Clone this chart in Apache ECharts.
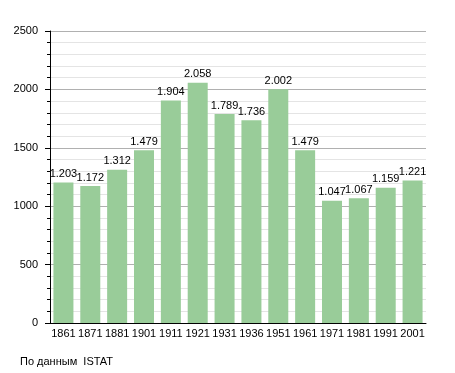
<!DOCTYPE html>
<html><head><meta charset="utf-8">
<script src="https://cdn.jsdelivr.net/npm/echarts@6/dist/echarts.min.js"></script>
<style>html,body{margin:0;padding:0;background:#fff}#c{width:455px;height:373px}</style>
</head><body><div id="c"></div>
<script>
const years = ['1861','1871','1881','1901','1911','1921','1931','1936','1951','1961','1971','1981','1991','2001'];
const population = [1203,1172,1312,1479,1904,2058,1789,1736,2002,1479,1047,1067,1159,1221];
const yTicks = [0,500,1000,1500,2000,2500];
const FONT = 'Liberation Sans, Arial, sans-serif';
const chart = echarts.init(document.getElementById('c'), null, {renderer:'canvas'});
chart.setOption({
  animation:false,
  backgroundColor:'#fff',
  grid:{left:50,right:29,top:31,bottom:50,containLabel:false},
  xAxis:{type:'category',data:years,
    axisLine:{show:true,lineStyle:{color:'#000',width:1}},
    axisTick:{show:false},
    axisLabel:{color:'#000',fontFamily:FONT,fontSize:11,margin:5,interval:0}
  },
  yAxis:{type:'value',min:yTicks[0],max:yTicks[yTicks.length-1],interval:500,
    axisLine:{show:true,lineStyle:{color:'#000',width:1}},
    axisTick:{show:true,length:5,lineStyle:{color:'#000'}},
    minorTick:{show:true,splitNumber:5,length:3,lineStyle:{color:'#000'}},
    splitLine:{show:true,lineStyle:{color:'#b0b0b0',width:1}},
    minorSplitLine:{show:true,lineStyle:{color:'#e4e4e4',width:1}},
    axisLabel:{color:'#000',fontFamily:FONT,fontSize:11,margin:12,formatter:v=>String(v)}
  },
  series:[{type:'bar',data:population,barWidth:20,
    itemStyle:{color:'#99cc99'},
    label:{show:true,position:'top',color:'#000',fontFamily:FONT,fontSize:11,distance:3,
      formatter:p=>{const v=p.value;return v>=1000?Math.floor(v/1000)+'.'+String(v%1000).padStart(3,'0'):String(v);}}
  }],
  graphic:[{type:'text',left:20,top:356,style:{text:'По данным  ISTAT',font:'11px '+FONT,fill:'#000'}}]
});
</script></body></html>
